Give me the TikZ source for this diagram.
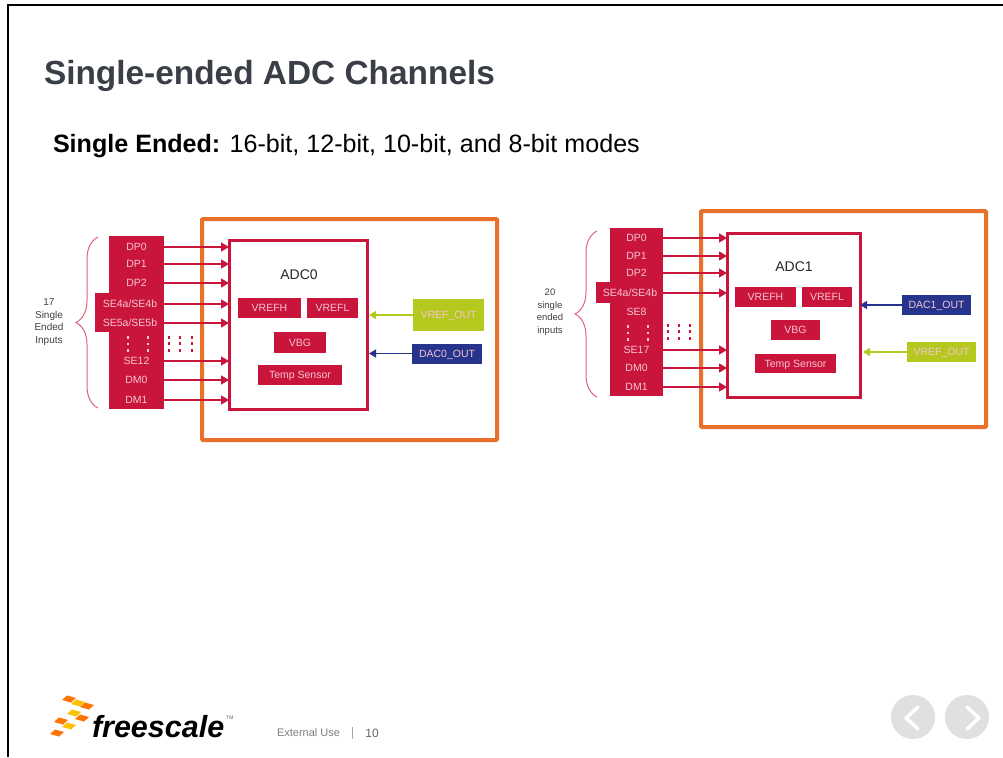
\documentclass[tikz,border=0pt]{standalone}
\usepackage{fontspec}
\setmainfont{Liberation Sans}
\usetikzlibrary{arrows.meta, decorations.pathreplacing}
\definecolor{fsred}{HTML}{C9143C}
\definecolor{fspink}{HTML}{F5C6D0}
\definecolor{fsorange}{HTML}{E8702A}
\definecolor{fsgreen}{HTML}{B5C81E}
\definecolor{fsnavy}{HTML}{27348B}
\definecolor{fstitle}{HTML}{3A3F47}
\newcommand{\fs}[1]{\fontsize{#1}{#1}\selectfont}

\begin{document}
\begin{tikzpicture}[
  x=1pt, y=-1pt,
  inner sep=0pt, outer sep=0pt,
  panel/.style={draw=fsorange, line width=4pt, rounded corners=1pt},
  adc/.style={draw=fsred, line width=3pt, fill=white},
  block/.style={fill=fsred, text=fspink, font=\fs{10.5}, text height=7.5pt, text depth=0pt},
  row/.style={text=fspink, font=\fs{10.5}, minimum height=14pt, text height=7.5pt, text depth=0pt},
  side/.style={text=black!75, align=center},
  wire/.style={-{Triangle[length=8pt, width=9pt]}, fsred, line width=1.3pt},
  vwire/.style={-{Triangle[length=7pt, width=8pt]}, line width=1.3pt},
  brc/.style={decorate, decoration={brace, amplitude=22pt}, draw=fsred!65, line width=1pt},
  dots/.style={line width=2.6pt, dash pattern=on 3pt off 3.6pt},
  coldots/.style={line width=1.7pt, dash pattern=on 2.6pt off 4pt, fspink},
  chev/.style={white, line width=3.5pt, line cap=round, line join=round}]

  \useasboundingbox (0,0) rectangle (1003,757);
  \fill[white] (0,0) rectangle (1003,757);
  \draw[black, line width=2pt] (8,757) -- (8,5) -- (1003,5);

  \node[anchor=west, text=fstitle, font=\fs{33.4}\bfseries] (title) at (44,75.5) {Single-ended ADC Channels};
  \node[anchor=west, text=black, font=\fs{25.1}] (subtitle) at (53,146) {\textbf{Single Ended:} 16-bit, 12-bit, 10-bit, and 8-bit modes};

  \node[panel, minimum width=295pt, minimum height=221pt] (panel0) at (349.5,329.5) {};
  \node[adc, minimum width=138pt, minimum height=169pt] (adc0) at (298,324.5) {};
  \node[fill=fsred, minimum width=55pt, minimum height=173pt] (col0) at (136.5,322.5) {};
  \node[fill=fsred, minimum width=69pt, minimum height=39pt] (ext0) at (129.5,312.5) {};
  \node[font=\fs{14}, text=black!85] (name0) at (299,275) {ADC0};
  \node[block, minimum width=63pt, minimum height=20pt] (vrefh0) at (269.5,308) {VREFH};
  \node[block, minimum width=51pt, minimum height=20pt] (vrefl0) at (332.5,308) {VREFL};
  \node[block, minimum width=52pt, minimum height=21pt] (vbg0) at (300,342.5) {VBG};
  \node[block, minimum width=84pt, minimum height=20pt] (temp0) at (300,375) {Temp Sensor};
  \node[block, fill=fsgreen, minimum width=71pt, minimum height=32pt] (vout0) at (448.5,315) {VREF\_OUT};
  \node[block, fill=fsnavy, minimum width=70pt, minimum height=20pt] (dac0) at (447,353.5) {DAC0\_OUT};

  \node[row, minimum width=55pt] (dp00) at (136.5,247) {DP0};
  \node[row, minimum width=55pt] (dp10) at (136.5,264) {DP1};
  \node[row, minimum width=55pt] (dp20) at (136.5,283) {DP2};
  \node[row, minimum width=55pt] (se40) at (136.5,304) {};
  \node[row, minimum width=55pt] (se50) at (136.5,323) {};
  \node[row] (se4text0) at (130,304) {SE4a/SE4b};
  \node[row] (se5text0) at (130,323) {SE5a/SE5b};
  \node[row, minimum width=55pt] (se120) at (136.5,361) {SE12};
  \node[row, minimum width=55pt] (dm00) at (136.5,380) {DM0};
  \node[row, minimum width=55pt] (dm10) at (136.5,400) {DM1};

  \draw[wire] (dp00.east) -- (dp00.east -| adc0.west);
  \draw[wire] (dp10.east) -- (dp10.east -| adc0.west);
  \draw[wire] (dp20.east) -- (dp20.east -| adc0.west);
  \draw[wire] (se40.east) -- (se40.east -| adc0.west);
  \draw[wire] (se50.east) -- (se50.east -| adc0.west);
  \draw[wire] (se120.east) -- (se120.east -| adc0.west);
  \draw[wire] (dm00.east) -- (dm00.east -| adc0.west);
  \draw[wire] (dm10.east) -- (dm10.east -| adc0.west);
  \draw[vwire, fsgreen, shorten >=2pt] (vout0.west) -- (vout0.west -| adc0.east);
  \draw[vwire, fsnavy, shorten >=2pt] (dac0.west) -- (dac0.west -| adc0.east);

  \draw[brc] (98,408) -- (98,237);
  \node[side, font=\fs{10}, align=center] (lab0) at (49,322) {17\\[2.4pt]Single\\[2.4pt]Ended\\[2.4pt]Inputs};
  \foreach \xx in {128,148} \draw[coldots] (\xx,336) -- (\xx,353);
  \foreach \xx in {169,180,192} \draw[dots, fsred] (\xx,335.5) -- (\xx,352);

  \node[panel, minimum width=285pt, minimum height=216pt] (panel1) at (843.5,319) {};
  \node[adc, minimum width=133pt, minimum height=164pt] (adc1) at (793.5,315) {};
  \node[fill=fsred, minimum width=53pt, minimum height=168pt] (col1) at (636.5,312) {};
  \node[fill=fsred, minimum width=67pt, minimum height=21pt] (ext1) at (629.5,292.5) {};
  \node[font=\fs{14}, text=black!85] (name1) at (794,267) {ADC1};
  \node[block, minimum width=61pt, minimum height=20pt] (vrefh1) at (765.5,297) {VREFH};
  \node[block, minimum width=50pt, minimum height=20pt] (vrefl1) at (827,297) {VREFL};
  \node[block, minimum width=49pt, minimum height=20pt] (vbg1) at (795.5,330) {VBG};
  \node[block, minimum width=81pt, minimum height=19pt] (temp1) at (795.5,363.5) {Temp Sensor};
  \node[block, fill=fsnavy, minimum width=69pt, minimum height=20pt] (dac1) at (936.5,305) {DAC1\_OUT};
  \node[block, fill=fsgreen, minimum width=69pt, minimum height=20pt] (vout1) at (941.5,352) {VREF\_OUT};

  \node[row, minimum width=53pt] (dp01) at (636.5,238) {DP0};
  \node[row, minimum width=53pt] (dp11) at (636.5,256) {DP1};
  \node[row, minimum width=53pt] (dp21) at (636.5,273) {DP2};
  \node[row, minimum width=53pt] (se41) at (636.5,293) {};
  \node[row] (se4text1) at (630,293) {SE4a/SE4b};
  \node[row, minimum width=53pt] (se81) at (636.5,312) {SE8};
  \node[row, minimum width=53pt] (se171) at (636.5,350) {SE17};
  \node[row, minimum width=53pt] (dm01) at (636.5,368) {DM0};
  \node[row, minimum width=53pt] (dm11) at (636.5,387) {DM1};

  \draw[wire] (dp01.east) -- (dp01.east -| adc1.west);
  \draw[wire] (dp11.east) -- (dp11.east -| adc1.west);
  \draw[wire] (dp21.east) -- (dp21.east -| adc1.west);
  \draw[wire] (se41.east) -- (se41.east -| adc1.west);
  \draw[wire] (se171.east) -- (se171.east -| adc1.west);
  \draw[wire] (dm01.east) -- (dm01.east -| adc1.west);
  \draw[wire] (dm11.east) -- (dm11.east -| adc1.west);
  \draw[vwire, fsnavy] (dac1.west) -- (dac1.west -| adc1.east);
  \draw[vwire, fsgreen, shorten >=3pt] (vout1.west) -- (vout1.west -| adc1.east);

  \draw[brc] (597,397) -- (597,231);
  \node[side, font=\fs{9.5}, align=center] (lab1) at (550,312) {20\\[3pt]single\\[3pt]ended\\[3pt]inputs};
  \foreach \xx in {628,648} \draw[coldots] (\xx,325) -- (\xx,342);
  \foreach \xx in {668,679,690} \draw[dots, fsred] (\xx,323.5) -- (\xx,340);

  \foreach \cx/\cy/\cc in {69/699/orange!90!red, 78/703/yellow!55!orange, 87/706/orange!90!red, 74/713/yellow!55!orange,
    82/718/orange!90!red, 61/721/orange!90!red, 69/726/yellow!55!orange, 57/733/orange!90!red}
    \fill[\cc] (\cx-7,\cy+1) -- (\cx-2,\cy-3.5) -- (\cx+7,\cy-1) -- (\cx+2,\cy+3.5) -- cycle;
  \node[anchor=west, font=\fs{30.5}\bfseries\itshape, text=black] (logo) at (92,727) {freescale};
  \node[font=\fs{5}, text=black!60] (tm) at (230,718) {TM};
  \node[anchor=west, font=\fs{11}, text=black!50] (use) at (277,733) {External Use};
  \node[draw=black!35, minimum width=0.6pt, minimum height=11pt] (sep) at (352,733) {};
  \node[font=\fs{12}, text=black!60] (page) at (372,733) {10};

  \node[circle, fill=black!12, minimum size=44pt] (prev) at (913,717) {};
  \node[circle, fill=black!12, minimum size=44pt] (next) at (967,717) {};
  \draw[chev] (918,707) -- (906,718) -- (918,729);
  \draw[chev] (967,707) -- (979,718) -- (967,729);
\end{tikzpicture}
\end{document}
